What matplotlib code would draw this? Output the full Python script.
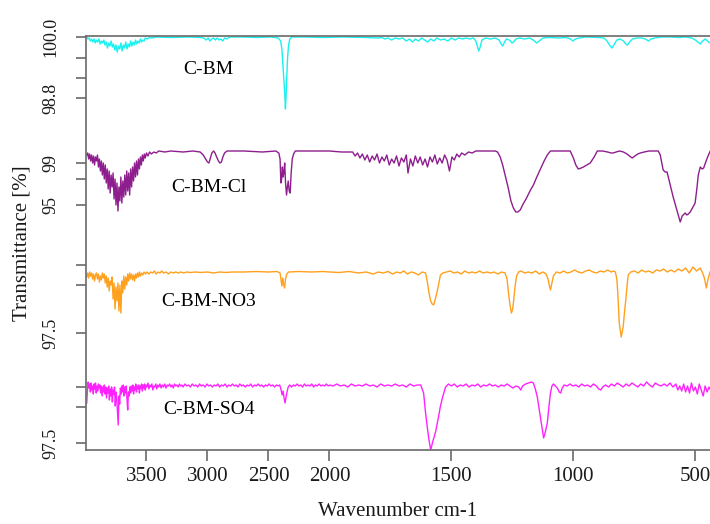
import matplotlib
matplotlib.use("Agg")
import matplotlib.pyplot as plt
import numpy as np

plt.rcParams['font.family'] = ['Liberation Serif', 'DejaVu Serif']

# ---------------- data (wavenumber cm-1, transmittance change, stacked units) ----------------
series_names = ["C-BM", "C-BM-Cl", "C-BM-NO3", "C-BM-SO4"]

c_bm = [(3990,0),(3980,-2),(3970,-1),(3960,-4),(3950,-2),(3940,-5),(3930,-2),(3920,-6),(3910,-3),(3900,-5),
        (3890,-2),(3880,-7),(3870,-4),(3860,-6),(3850,-3),(3840,-8),(3830,-5),(3820,-11),(3810,-6),(3800,-9),
        (3790,-4),(3780,-10),(3770,-7),(3760,-13),(3750,-8),(3740,-15),(3730,-9),(3720,-12),(3710,-6),(3700,-14),
        (3690,-8),(3680,-11),(3670,-5),(3660,-12),(3650,-7),(3640,-10),(3630,-4),(3620,-9),(3610,-5),(3600,-8),
        (3590,-3),(3580,-7),(3570,-4),(3560,-6),(3550,-2),(3540,-5),(3530,-3),(3520,-4),(3510,-1),(3495,-2),
        (3475,-0.5),(3455,-1),(3420,0),(3300,-0.5),(3150,0),(3060,-0.5),(3030,-1),(3010,-3),(2995,-1),(2980,-4),
        (2965,-2),(2950,-1),(2935,-3),(2920,-1),(2905,-3),(2890,-2),(2875,-4),(2860,-1),(2840,-2),(2820,0),
        (2700,0),(2600,-0.5),(2480,0),(2420,-1),(2400,-4),(2390,-12),(2380,-30),(2372,-46),(2366,-58),(2361,-72),
        (2356,-60),(2350,-40),(2343,-20),(2335,-8),(2325,-2),(2310,0),(2200,0),(2050,-0.5),(1950,0),(1850,-0.5),
        (1800,-1),(1785,-0.5),(1772,-2),(1760,-1),(1745,-3),(1730,-1),(1715,-2),(1700,-1),(1685,-4),(1672,-2),
        (1660,-5),(1648,-2),(1635,-4),(1622,-1),(1610,-3),(1598,-5),(1585,-2),(1572,-4),(1560,-1),(1545,-3),
        (1530,-2),(1515,-4),(1500,-1),(1485,-3),(1470,-1),(1455,-2),(1440,-1),(1425,-2),(1410,-1),(1400,-4),
        (1393,-10),(1388,-14),(1382,-10),(1375,-3),(1360,-1),(1340,-2),(1320,-1),(1305,-3),(1296,-7),(1290,-9),
        (1284,-6),(1275,-2),(1262,-3),(1252,-6),(1245,-5),(1236,-2),(1220,-1),(1200,-2),(1180,-1),(1165,-3),
        (1150,-6),(1140,-4),(1125,-1),(1100,-0.5),(1060,-1),(1030,-0.5),(1012,-2),(1002,-4),(992,-2),(975,-1),
        (950,0),(900,-0.5),(875,-1),(862,-4),(852,-8),(842,-11),(834,-8),(822,-3),(808,-2),(795,-4),(785,-7),
        (778,-8),(770,-5),(758,-2),(740,-1),(720,-1),(705,-2),(692,-4),(682,-2),(665,-1),(640,0),(600,0),
        (570,-0.5),(540,0),(515,-1),(500,-3),(490,-5),(480,-7),(470,-4),(460,-2),(450,-4),(440,-6)]

c_bm_cl = [(3990,-4),(3982,-2),(3974,-8),(3966,-3),(3958,-10),(3950,-4),(3942,-12),(3934,-5),(3926,-14),(3918,-6),
           (3910,-10),(3902,-4),(3894,-16),(3886,-8),(3878,-20),(3870,-10),(3862,-24),(3854,-12),(3846,-28),(3838,-14),
           (3830,-32),(3822,-18),(3814,-38),(3806,-20),(3798,-42),(3790,-24),(3782,-36),(3774,-22),(3766,-48),(3758,-28),
           (3750,-54),(3742,-32),(3734,-60),(3726,-36),(3718,-50),(3710,-26),(3702,-52),(3694,-30),(3686,-46),(3678,-24),
           (3670,-44),(3662,-20),(3654,-40),(3646,-22),(3638,-44),(3630,-18),(3622,-36),(3614,-16),(3606,-30),(3598,-12),
           (3590,-26),(3582,-10),(3574,-24),(3566,-8),(3558,-18),(3550,-6),(3542,-14),(3534,-4),(3526,-10),(3518,-3),
           (3510,-7),(3500,-2),(3488,-5),(3475,-1),(3460,-3),(3440,-1),(3420,-2),(3400,0),(3350,-1),(3300,0),
           (3200,-1),(3120,0),(3060,-1),(3035,-4),(3015,-8),(3000,-11),(2988,-12),(2976,-7),(2964,-2),(2950,0),
           (2938,-2),(2925,-6),(2910,-10),(2898,-12),(2886,-11),(2874,-6),(2860,-2),(2840,0),(2700,0),(2550,-1),
           (2440,0),(2415,-2),(2405,-8),(2398,-32),(2392,-28),(2386,-16),(2380,-26),(2374,-22),(2367,-12),(2360,-32),
           (2352,-44),(2345,-36),(2338,-30),(2330,-40),(2322,-42),(2314,-22),(2305,-8),(2294,-3),(2280,0),(2150,0),
           (2000,0),(1950,-1),(1905,-1),(1895,-5),(1885,-2),(1875,-7),(1865,-3),(1855,-9),(1845,-4),(1835,-11),
           (1825,-5),(1815,-9),(1805,-3),(1795,-12),(1785,-6),(1775,-10),(1765,-4),(1755,-14),(1745,-8),(1735,-12),
           (1725,-5),(1715,-15),(1705,-7),(1695,-11),(1685,-4),(1678,-22),(1668,-8),(1658,-15),(1648,-5),(1638,-12),
           (1628,-6),(1618,-14),(1608,-8),(1598,-16),(1588,-6),(1578,-11),(1568,-4),(1558,-13),(1548,-7),(1538,-12),
           (1528,-4),(1518,-9),(1508,-20),(1498,-6),(1488,-9),(1478,-3),(1468,-6),(1458,-2),(1445,-4),(1430,-1),
           (1415,-2),(1400,0),(1360,0),(1320,0),(1311,-1),(1300,-6),(1290,-14),(1278,-26),(1268,-36),(1256,-50),
           (1246,-57),(1236,-61),(1228,-61),(1218,-59),(1206,-53),(1192,-47),(1178,-40),(1164,-34),(1150,-26),(1135,-18),
           (1120,-10),(1107,-4),(1094,0),(1050,0),(1013,0),(1000,-7),(990,-14),(980,-18),(968,-17),(959,-16),
           (945,-14),(931,-12),(915,-6),(902,0),(880,0),(860,-1),(845,-2),(837,-2),(825,-1),(810,0),
           (795,-1),(780,-3),(770,-5),(759,-7),(748,-5),(736,-3),(726,-2),(710,-1),(690,0),(670,0),
           (652,0),(644,-4),(632,-19),(624,-21),(616,-21),(605,-32),(591,-46),(575,-60),(562,-71),(554,-65),
           (542,-62),(535,-64),(529,-63),(521,-61),(510,-56),(501,-52),(494,-38),(488,-24),(480,-16),(472,-18),
           (466,-17),(456,-10),(448,-5),(439,0)]

c_bm_no3 = [(3990,-6),(3982,-2),(3974,-7),(3966,-1),(3958,-5),(3950,-2),(3942,-8),(3934,-3),(3926,-10),(3918,-4),
            (3910,-2),(3902,-8),(3894,-3),(3886,-11),(3878,-5),(3870,-9),(3862,-2),(3854,-7),(3846,-3),(3838,-12),
            (3830,-5),(3822,-16),(3814,-7),(3806,-20),(3798,-10),(3790,-14),(3782,-6),(3774,-28),(3766,-12),(3758,-38),
            (3750,-16),(3742,-30),(3734,-12),(3726,-40),(3718,-14),(3710,-42),(3702,-10),(3694,-22),(3686,-5),(3678,-18),
            (3670,-6),(3662,-14),(3654,-3),(3646,-10),(3638,-2),(3630,-8),(3622,-3),(3614,-9),(3606,-4),(3598,-10),
            (3590,-3),(3582,-7),(3574,-2),(3566,-6),(3558,-1),(3550,-5),(3540,-2),(3530,-4),(3520,-1),(3508,-3),
            (3495,-1),(3480,-3),(3465,-1),(3450,-2),(3435,0),(3420,-3),(3405,-1),(3390,-2),(3375,0),(3360,-2),
            (3340,-1),(3320,-3),(3300,-1),(3280,-2),(3260,-1),(3240,-2),(3220,-1),(3195,-2),(3170,-1),(3140,-1.5),
            (3100,-1),(3050,-1.5),(3000,-1),(2950,-2),(2900,-1),(2850,-1.5),(2800,-1),(2700,-1),(2600,-0.5),(2500,-1),
            (2430,-0.5),(2405,-2),(2398,-8),(2390,-15),(2383,-7),(2376,-13),(2368,-17),(2360,-8),(2350,-3),(2335,-1),
            (2250,-0.5),(2150,-1),(2050,-0.5),(2000,-1),(1960,-1.5),(1920,-0.5),(1880,-2),(1850,-1),(1820,-3),(1800,-1),
            (1780,-2),(1760,-0.5),(1740,-3),(1725,-1),(1710,-2),(1695,0),(1680,-3),(1665,-1),(1650,-2),(1635,-4),
            (1620,-1),(1606,-2),(1598,-12),(1592,-22),(1585,-30),(1579,-33),(1573,-34),(1567,-29),(1557,-19),(1550,-10),
            (1545,-4),(1535,-2),(1520,-1),(1505,0),(1490,-2),(1475,-1),(1460,-3),(1445,0),(1430,-2),(1415,-1),
            (1400,-2),(1385,0),(1370,-2),(1355,-1),(1340,-2),(1325,-1),(1310,-3),(1295,-1),(1280,-2),(1272,-8),
            (1266,-22),(1260,-34),(1254,-42),(1249,-38),(1245,-30),(1239,-15),(1233,-5),(1225,-1),(1215,0),(1200,-2),
            (1185,-1),(1170,-2),(1155,0),(1140,-3),(1125,-1),(1112,-3),(1104,-8),(1098,-15),(1094,-19),(1088,-12),
            (1082,-5),(1070,-1),(1055,-2),(1040,0),(1025,-2),(1010,-1),(995,1),(980,-1),(965,-2),(950,0),
            (935,1),(920,-1),(905,-2),(890,0),(875,-1),(860,1),(845,-1),(835,0),(828,-1),(822,-8),
            (818,-22),(812,-52),(804,-66),(796,-56),(790,-40),(784,-26),(779,-12),(775,-4),(765,-1),(750,0),
            (735,-2),(720,1),(705,-1),(690,0),(675,-2),(660,1),(645,0),(630,2),(615,-1),(600,1),
            (585,-1),(570,2),(555,0),(540,3),(525,-2),(510,4),(495,0),(480,3),(470,-2),(462,-8),
            (455,-17),(448,-8),(440,-1)]

c_bm_so4 = [(3990,-19),(3984,-6),(3978,2),(3972,-4),(3966,0),(3960,-8),(3954,1),(3948,-6),(3942,-2),(3936,-10),
            (3930,0),(3924,-5),(3918,1),(3912,-9),(3906,-2),(3900,-7),(3894,0),(3888,-4),(3882,-1),(3876,-9),
            (3870,-2),(3864,-12),(3858,-3),(3852,-8),(3846,-1),(3840,-10),(3834,-3),(3828,-14),(3822,-4),(3816,-9),
            (3810,-2),(3804,-16),(3798,-5),(3792,-12),(3786,-3),(3780,-18),(3774,-6),(3768,-10),(3762,-3),(3756,-22),
            (3750,-8),(3744,-14),(3738,-28),(3732,-41),(3726,-12),(3720,-20),(3714,-4),(3708,-10),(3702,-2),(3696,-8),
            (3690,-1),(3684,-12),(3678,-3),(3672,-9),(3666,-2),(3660,-15),(3654,-26),(3648,-8),(3642,-12),(3636,-3),
            (3630,-9),(3624,-2),(3618,-7),(3612,-1),(3606,-10),(3600,-3),(3594,-6),(3588,0),(3582,-8),(3576,-2),
            (3570,-5),(3564,-1),(3558,-9),(3552,-2),(3546,-4),(3540,0),(3534,-7),(3528,-1),(3522,-4),(3516,0),
            (3510,-6),(3504,-1),(3496,-3),(3488,1),(3480,-5),(3472,-1),(3464,-3),(3456,0),(3448,-6),(3440,-2),
            (3432,-3),(3424,0),(3416,-5),(3408,-1),(3400,-3),(3390,0),(3380,-4),(3370,-1),(3360,-3),(3350,0),
            (3340,-4),(3330,-1),(3320,-2),(3310,0),(3300,-3),(3290,-1),(3280,-4),(3270,0),(3260,-2),(3250,-1),
            (3240,-3),(3230,0),(3220,-2),(3210,-1),(3200,-3),(3185,0),(3170,-2),(3155,-1),(3140,-3),(3125,0),
            (3110,-2),(3095,-1),(3080,-3),(3065,0),(3050,-2),(3035,-1),(3020,-3),(3005,0),(2990,-2),(2975,-1),
            (2960,-3),(2945,-1),(2930,-2),(2915,0),(2900,-3),(2885,-1),(2870,-2),(2855,0),(2840,-3),(2825,-1),
            (2810,-2),(2795,0),(2780,-2),(2765,-1),(2750,-3),(2735,0),(2720,-2),(2705,-1),(2690,-3),(2675,-1),
            (2660,-2),(2645,0),(2630,-3),(2615,-1),(2600,-2),(2585,0),(2570,-2),(2555,-1),(2540,-3),(2525,-1),
            (2510,-2),(2495,0),(2480,-2),(2465,-1),(2450,-3),(2435,-1),(2420,-2),(2408,-1),(2398,-5),(2388,-11),
            (2380,-7),(2372,-14),(2364,-19),(2356,-13),(2348,-8),(2338,-3),(2325,-1),(2310,-3),(2295,-1),(2280,-2),
            (2265,0),(2250,-2),(2235,-1),(2220,-3),(2205,0),(2190,-2),(2175,-1),(2160,-2),(2145,0),(2130,-3),
            (2115,-1),(2100,-2),(2085,0),(2070,-2),(2055,-1),(2040,-2),(2025,0),(2010,-2),(2000,-1),(1985,-2),
            (1970,0),(1955,-2),(1940,-1),(1925,-3),(1910,0),(1895,-2),(1880,-1),(1865,-2),(1850,0),(1835,-2),
            (1820,-1),(1805,-3),(1790,0),(1775,-2),(1760,-1),(1745,-2),(1730,0),(1715,-2),(1700,-1),(1685,-3),
            (1670,0),(1655,-2),(1640,-1),(1626,-1),(1614,-9),(1606,-29),(1598,-45),(1592,-56),(1585,-66),(1577,-58),
            (1565,-48),(1553,-33),(1545,-22),(1536,-13),(1524,-3),(1512,0),(1500,-2),(1488,0),(1476,-3),(1464,-1),
            (1452,-2),(1440,0),(1428,-3),(1416,-1),(1404,-2),(1392,0),(1380,-3),(1368,-1),(1356,-2),(1344,0),
            (1332,-2),(1320,-1),(1308,-3),(1296,-1),(1284,-2),(1272,0),(1260,-2),(1248,-4),(1236,-2),(1224,-3),
            (1216,-6),(1208,-2),(1196,0),(1184,1),(1172,2),(1164,1),(1156,-5),(1148,-13),(1141,-24),(1135,-33),
            (1128,-45),(1122,-54),(1115,-48),(1107,-39),(1100,-22),(1094,-9),(1088,-2),(1082,0),(1074,-2),(1066,-4),
            (1058,-8),(1052,-9),(1046,-4),(1038,-1),(1026,-2),(1014,0),(1002,-2),(990,-1),(978,-3),(966,0),
            (954,-2),(942,-1),(930,-3),(918,0),(906,-2),(896,-5),(888,-6),(880,-3),(868,-1),(856,-3),
            (844,0),(832,-2),(820,1),(808,-1),(796,-3),(784,0),(772,-2),(760,1),(748,-1),(736,-3),
            (724,0),(712,-2),(700,2),(688,-1),(676,-3),(664,1),(652,-1),(640,-2),(628,0),(616,-2),
            (604,1),(592,-3),(580,0),(572,-6),(564,-2),(556,-7),(548,0),(540,-8),(532,-2),(524,-9),
            (516,1),(508,-7),(500,-3),(492,-10),(484,0),(476,-6),(468,-12),(460,-2),(452,-8),(444,-3),(440,-5)]

# stacking offsets of each spectrum's baseline (stacked units)
offsets = [413, 299, 179, 66]
colors = ["#19F0F0", "#8E1E8E", "#FFA01E", "#FF22FF"]

x_ticks = [3500, 3000, 2500, 2000, 1500, 1000, 500]
y_ticks = [413, 392, 372, 352, 287, 271, 245, 185, 165, 117, 63, 43, 7]
y_tick_labels = ["100.0", "", "", "98.8", "99", "", "95", "", "", "97.5", "", "", "97.5"]

# ---------------- figure ----------------
W, H = 710, 524
fig = plt.figure(figsize=(W / 100, H / 100), dpi=100)
ax = fig.add_axes([86 / W, 1 - 450 / H, (710 - 86) / W, (450 - 36) / H])


def fwd(w):
    w = np.asarray(w, dtype=float)
    return np.where(w > 2000, 2000 + (w - 2000) / 2.0, w)


def inv(u):
    u = np.asarray(u, dtype=float)
    return np.where(u > 2000, 2000 + (u - 2000) * 2.0, u)


ax.set_xscale('function', functions=(fwd, inv))

for data, off, col in zip([c_bm, c_bm_cl, c_bm_no3, c_bm_so4], offsets, colors):
    wn = np.array([p[0] for p in data], dtype=float)
    val = np.array([p[1] for p in data], dtype=float)
    ax.plot(wn, off + val, color=col, lw=1.0, zorder=2)

ax.set_xlim(3996, 440)
ax.set_ylim(0, 414)

ax.set_xticks(x_ticks)
ax.set_xticklabels([str(t) for t in x_ticks])
ax.xaxis.set_minor_locator(matplotlib.ticker.NullLocator())
ax.set_yticks(y_ticks)
ax.set_yticklabels(y_tick_labels)

spine_col = "#6a6a6a"
for s in ['left', 'bottom', 'top']:
    ax.spines[s].set_color(spine_col)
    ax.spines[s].set_linewidth(1.2)
ax.spines['right'].set_visible(False)

ax.tick_params(axis='x', direction='out', length=8, width=1.2, color=spine_col,
               labelsize=15, pad=4, labelcolor="#1a1a1a")
ax.tick_params(axis='y', direction='out', length=7.5, width=1.2, color=spine_col,
               labelsize=13, pad=12, labelcolor="#1a1a1a", labelrotation=90)
for lab in ax.get_yticklabels():
    lab.set_va('center')

label_y = [381, 263, 149, 41]
for name, ly in zip(series_names, label_y):
    ax.text(2990, ly, name, ha='center', va='center', fontsize=14, color='black')

fig.text(22 / W, 1 - 243 / H, "Transmittance [%]", rotation=90, ha='center', va='center',
         fontsize=15, color="#1a1a1a")
fig.text(398 / W, 1 - 512 / H, "Wavenumber cm-1", ha='center', va='center',
         fontsize=15, color="#1a1a1a")

fig.savefig("out.png", dpi=100)
